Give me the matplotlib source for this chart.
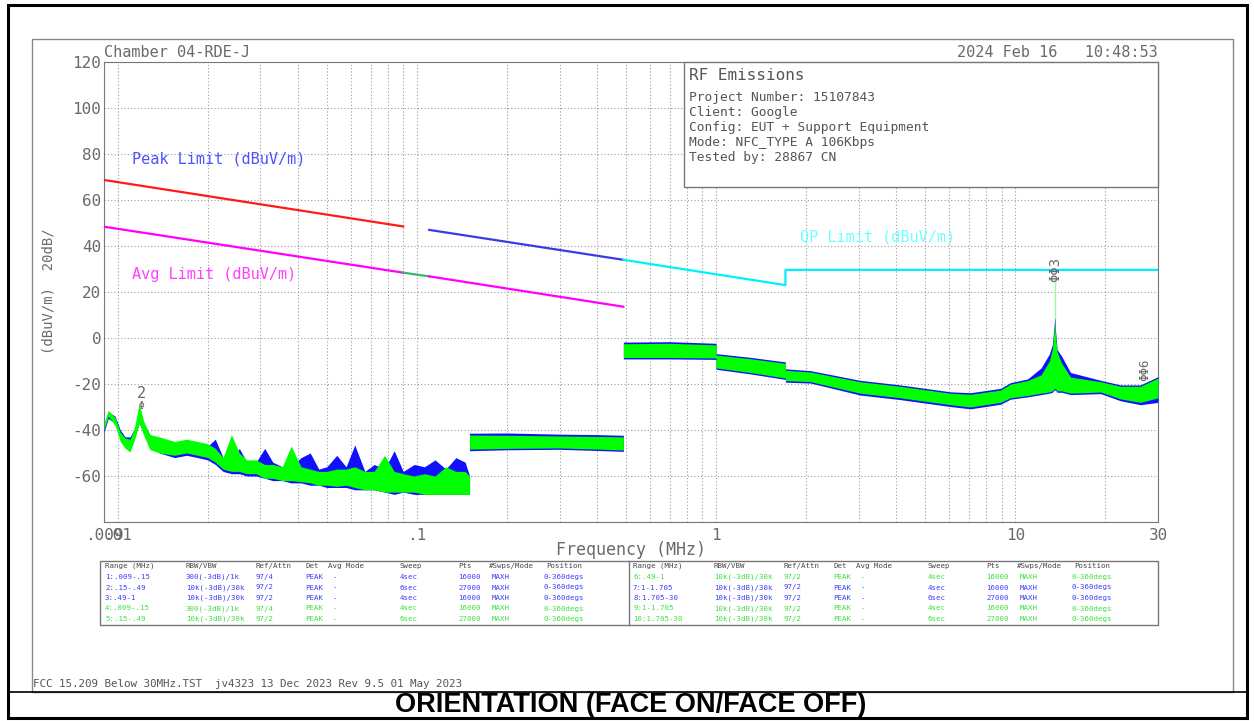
import matplotlib.pyplot as plt
from matplotlib.patches import Rectangle
from matplotlib.ticker import FixedLocator

plt.rcParams['font.family'] = 'DejaVu Sans Mono'

# ---- trace envelopes (MHz, dBuV/m) ----
freq = [0.0090, 0.0093, 0.0098, 0.0102, 0.0106, 0.0110, 0.0114, 0.0118, 0.0122, 0.0128,
        0.0138, 0.0155, 0.0170, 0.0185, 0.0200, 0.0212, 0.0225, 0.0240, 0.0255, 0.0270,
        0.0290, 0.0310, 0.0330, 0.0355, 0.0380, 0.0410, 0.0440, 0.0470, 0.0500, 0.0540,
        0.0580, 0.0620, 0.0670, 0.0720, 0.0780, 0.0840, 0.0900, 0.0980, 0.1060, 0.1150,
        0.1250, 0.1350, 0.1450, 0.1500,
        0.1500, 0.2000, 0.3000, 0.4000, 0.4900,
        0.4900, 0.7000, 1.0000,
        1.0000, 1.3000, 1.7050,
        1.7050, 2.07, 3.03, 4.13, 6.07, 7.08, 8.93, 9.64, 11.0, 12.2,
        13.0, 13.3, 13.5, 13.56, 13.62, 13.8, 14.3, 15.3, 19.3, 22.5, 26.2, 30.0]

green_lo = [-40, -34, -38, -45, -48, -49.5, -44, -37, -42, -48.5,
            -50, -51, -50, -51, -52, -54, -57, -58, -58, -59,
            -59, -61, -61, -62, -62, -62.5, -63, -64, -64, -64.5,
            -64, -65, -66, -66, -67, -67, -67, -67, -68, -68,
            -68, -68, -68, -68,
            -48.3, -48, -47.8, -48.3, -48.7,
            -8.5, -8.5, -8.7,
            -13, -15, -17.4,
            -18.5, -19, -24, -26, -29, -30, -28, -26, -25, -24,
            -23.5, -23, -22, -22, -22, -23, -23, -24, -23.5, -26.5, -28, -26]
green_hi = [-37, -31.5, -34.5, -41, -43.5, -44, -38.5, -28.5, -36, -42,
            -43, -45, -44, -45, -46, -48, -52, -42, -50, -53,
            -53, -55, -55, -56, -47, -56, -57, -58, -58, -57,
            -57, -56, -58, -58, -51, -58, -59, -60, -59, -60,
            -56, -58, -58, -60,
            -42.2, -42.3, -42.6, -42.8, -43,
            -2.5, -2.3, -3,
            -7.4, -9, -11,
            -14, -14.8, -19, -21, -24, -24.5, -22.6, -20, -18.5, -16,
            -10, -5, 4, 8.5, 2, -6, -11, -17, -19, -21, -21, -17.4]
blue_lo = [-41, -35, -37, -44, -47, -47, -43, -37, -41, -47,
           -50, -52, -51, -52, -53, -55, -58, -59, -59, -60,
           -60, -61, -62, -62, -63, -63, -64, -64, -65, -65,
           -65, -66, -66, -66, -67, -68, -67, -68, -68, -68,
           -68, -68, -68, -68,
           -49, -48.6, -48.4, -48.9, -49.3,
           -9.1, -9.1, -9.3,
           -13.6, -15.6, -18,
           -19.2, -19.6, -24.8, -26.8, -29.8, -30.8, -28.8, -26.6, -25.6, -24.6,
           -24, -23.6, -22.6, -22.6, -22.6, -23.6, -23.6, -24.6, -24.2, -27.3, -29, -28]
blue_hi = [-38, -32, -34, -40, -43, -43, -39, -34, -37, -42,
           -44, -46, -45, -46, -47, -44, -52, -53, -48, -54,
           -54, -48, -54, -56, -56, -52, -50, -57, -56, -51,
           -56, -46.5, -58, -55, -57, -49, -58, -55, -56, -53,
           -57, -52, -54, -60,
           -41.4, -41.3, -41.8, -42, -42.3,
           -1.8, -1.6, -2.3,
           -6.8, -8.4, -10.4,
           -13.4, -14.2, -18.4, -20.4, -23.4, -23.8, -21.9, -19.4, -17.8, -13,
           -7, -3, 6, 11.3, 4, -5, -8, -15, -18.4, -20.4, -20.4, -16.8]

# ---- limit lines ----
peak_f, peak_v = [0.009, 0.09], [68.7, 48.5]
peak2_f, peak2_v = [0.11, 0.49], [47.0, 34.0]
avg_f, avg_v = [0.009, 0.09], [48.4, 28.4]
avg_mid_f, avg_mid_v = [0.09, 0.11], [28.4, 26.8]
avg2_f, avg2_v = [0.11, 0.49], [26.8, 13.6]
qp_f, qp_v = [0.49, 1.705, 1.705, 30], [34.0, 23.0, 29.6, 29.6]

x_ticks = [0.009, 0.01, 0.1, 1, 10, 30]
x_labels = ['.009', '.01', '.1', '1', '10', '30']
y_ticks = [-80, -60, -40, -20, 0, 20, 40, 60, 80, 100, 120]

info_lines = ['Project Number: 15107843', 'Client: Google',
              'Config: EUT + Support Equipment', 'Mode: NFC_TYPE A 106Kbps',
              'Tested by: 28867 CN']

tbl_header = ['Range (MHz)', 'RBW/VBW', 'Ref/Attn', 'Det', 'Avg Mode', 'Sweep',
              'Pts', '#Swps/Mode', 'Position']
tbl_left = [
    ['1:.009-.15', '300(-3dB)/1k', '97/4', 'PEAK', '-', '4sec', '16000', 'MAXH', '0-360degs'],
    ['2:.15-.49', '10k(-3dB)/30k', '97/2', 'PEAK', '-', '6sec', '27000', 'MAXH', '0-360degs'],
    ['3:.49-1', '10k(-3dB)/30k', '97/2', 'PEAK', '-', '4sec', '16000', 'MAXH', '0-360degs'],
    ['4:.009-.15', '300(-3dB)/1k', '97/4', 'PEAK', '-', '4sec', '16000', 'MAXH', '0-360degs'],
    ['5:.15-.49', '10k(-3dB)/30k', '97/2', 'PEAK', '-', '6sec', '27000', 'MAXH', '0-360degs'],
]
tbl_right = [
    ['6:.49-1', '10k(-3dB)/30k', '97/2', 'PEAK', '-', '4sec', '16000', 'MAXH', '0-360degs'],
    ['7:1-1.705', '10k(-3dB)/30k', '97/2', 'PEAK', '-', '4sec', '16000', 'MAXH', '0-360degs'],
    ['8:1.705-30', '10k(-3dB)/30k', '97/2', 'PEAK', '-', '6sec', '27000', 'MAXH', '0-360degs'],
    ['9:1-1.705', '10k(-3dB)/30k', '97/2', 'PEAK', '-', '4sec', '16000', 'MAXH', '0-360degs'],
    ['10:1.705-30', '10k(-3dB)/30k', '97/2', 'PEAK', '-', '6sec', '27000', 'MAXH', '0-360degs'],
]
BLUE_T, GREEN_T = '#3c3cff', '#3ee03e'
colors_left = [BLUE_T, BLUE_T, BLUE_T, GREEN_T, GREEN_T]
colors_right = [GREEN_T, BLUE_T, BLUE_T, GREEN_T, GREEN_T]

W, H = 1254, 721
GRAY = '#6a6a6a'

fig = plt.figure(figsize=(W / 100, H / 100), dpi=100)
ax = fig.add_axes([104 / W, 1 - 522 / H, 1054 / W, 460 / H])
ax.set_xscale('log')
ax.set_xlim(0.009, 30)
ax.set_ylim(-80, 120)

ax.fill_between(freq, blue_lo, blue_hi, color='#1010ff', lw=0, zorder=3)
ax.fill_between(freq, green_lo, green_hi, color='#00ff00', lw=0, zorder=4)

ax.plot(peak_f, peak_v, color='#ff1a1a', lw=1.6, zorder=5)
ax.plot(peak2_f, peak2_v, color='#3a3ae6', lw=1.6, zorder=5)
ax.plot(avg_f, avg_v, color='#ff00ff', lw=1.6, zorder=5)
ax.plot(avg_mid_f, avg_mid_v, color='#3cb371', lw=1.6, zorder=5)
ax.plot(avg2_f, avg2_v, color='#ff00ff', lw=1.6, zorder=5)
ax.plot(qp_f, qp_v, color='#00f0ff', lw=1.6, zorder=5)

ax.text(0.0112, 77.8, 'Peak Limit (dBuV/m)', color='#5050ff', fontsize=11, va='center')
ax.text(0.0112, 27.4, 'Avg Limit (dBuV/m)', color='#ff40ff', fontsize=11, va='center')
ax.text(1.91, 43.9, 'QP Limit (dBuV/m)', color='#70ffff', fontsize=11, va='center')

# markers
ax.plot([13.56, 13.56], [8.5, 24], color='#99ff99', lw=1, zorder=4)
ax.text(0.0120, -24, '2', color=GRAY, fontsize=11, ha='center', va='center', zorder=6)
ax.text(0.0120, -29.6, 'Φ', color=GRAY, fontsize=7, ha='center', va='center', zorder=6)
ax.text(13.56, 30, 'ΦΦ3', color=GRAY, fontsize=10, rotation=90, ha='center', va='center', zorder=6)
ax.text(27.0, -14, 'ΦΦ6', color=GRAY, fontsize=9, rotation=90, ha='center', va='center', zorder=6)

ax.set_xticks(x_ticks)
ax.set_xticklabels(x_labels)
minors = [m * 10.0 ** e for e in range(-2, 2) for m in range(2, 10) if 0.009 < m * 10.0 ** e < 30]
ax.xaxis.set_minor_locator(FixedLocator(minors))
ax.set_yticks(y_ticks)
ax.set_yticklabels(['' if v == -80 else str(v) for v in y_ticks])
ax.grid(which='both', color='#9a9a9a', ls=(0, (1, 2)), lw=0.8)
ax.tick_params(which='both', length=0, labelcolor=GRAY, labelsize=11.5)
ax.tick_params(axis='x', pad=4)
ax.tick_params(axis='y', pad=2)
for s in ax.spines.values():
    s.set_color('#777777')

# overlay in pixel coordinates for everything around the chart
ov = fig.add_axes([0, 0, 1, 1])
ov.set_xlim(0, W)
ov.set_ylim(H, 0)
ov.axis('off')
ov.patch.set_alpha(0)

ov.add_patch(Rectangle((8, 5), 1239, 713, fill=False, ec='black', lw=2.2))
ov.add_patch(Rectangle((32, 39), 1201, 653, fill=False, ec='#888888', lw=1))
ov.plot([8, 1247], [692, 692], color='black', lw=1.2)

ov.text(104, 57, 'Chamber 04-RDE-J', color=GRAY, fontsize=11, va='baseline')
ov.text(1158, 57, '2024 Feb 16   10:48:53', color=GRAY, fontsize=11, va='baseline', ha='right')
ov.text(48, 291, '(dBuV/m)  20dB/', color=GRAY, fontsize=10, rotation=90, ha='center', va='center')
ov.text(631, 550, 'Frequency (MHz)', color=GRAY, fontsize=12, ha='center', va='center')

# info box
ov.add_patch(Rectangle((684, 62), 474, 125, fc='white', ec='#777777', lw=1))
ov.text(689, 75, 'RF Emissions', color='#555555', fontsize=11.5, va='center')
for i, line in enumerate(info_lines):
    ov.text(689, 98 + i * 14.8, line, color='#555555', fontsize=9.3, va='center')

# settings table
ov.add_patch(Rectangle((100, 561), 1058, 64, fill=False, ec='#777777', lw=1))
ov.plot([629, 629], [561, 625], color='#777777', lw=1)
hdr_x = [105, 186, 255, 305, 328, 400, 458, 489, 546]
row_x = [105, 186, 255, 305, 333, 400, 458, 492, 544]
for off, rows, cols in [(0, tbl_left, colors_left), (528, tbl_right, colors_right)]:
    for x, h in zip(hdr_x, tbl_header):
        ov.text(x + off, 566, h, color='#444444', fontsize=5.3, va='center')
    for r, (row, c) in enumerate(zip(rows, cols)):
        for x, cell in zip(row_x, row):
            ov.text(x + off, 577 + r * 10.5, cell, color=c, fontsize=5.3, va='center')

ov.text(33, 684, 'FCC 15.209 Below 30MHz.TST  jv4323 13 Dec 2023 Rev 9.5 01 May 2023',
        color='#555555', fontsize=7.8, va='center')
ov.text(631, 705, 'ORIENTATION (FACE ON/FACE OFF)', family='Liberation Sans',
        weight='bold', fontsize=19.5, ha='center', va='center', color='black')

fig.savefig('out.png', dpi=100)
